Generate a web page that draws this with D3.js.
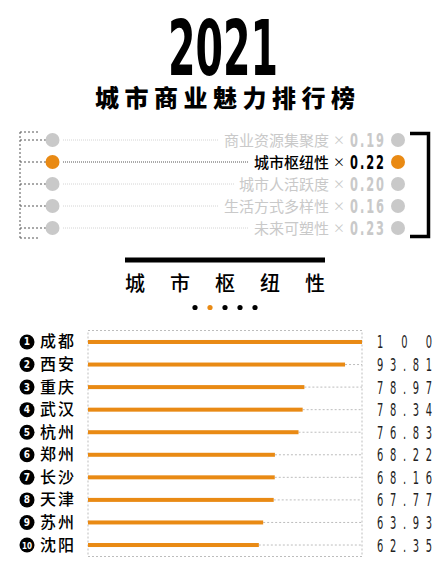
<!DOCTYPE html>
<html>
<head>
<meta charset="utf-8">
<script src="https://cdn.jsdelivr.net/npm/d3@7"></script>
<style>
  html, body { margin: 0; padding: 0; background: #fff; }
  svg { display: block; }
</style>
</head>
<body>
<div id="chart"></div>
<script>
// 数据
const title = '2021'
const subtitle = '城市商业魅力排行榜'
const dimNames = ['商业资源集聚度', '城市枢纽性', '城市人活跃度', '生活方式多样性', '未来可塑性']
const dimWeights = ['0.19', '0.22', '0.20', '0.16', '0.23']
const activeDim = 1
const cities = ['成都', '西安', '重庆', '武汉', '杭州', '郑州', '长沙', '天津', '苏州', '沈阳']
const scores = [100, 93.81, 78.97, 78.34, 76.83, 68.22, 68.16, 67.77, 63.93, 62.35]
const scoreLabels = ['1 0 0', '93.81', '78.97', '78.34', '76.83', '68.22', '68.16', '67.77', '63.93', '62.35']

const width = 443
const height = 565
const orange = '#e98a14'
const grey = '#c9c9c9'
const cjk = '"Noto Sans CJK SC", "Noto Sans", sans-serif'
const latin = '"DejaVu Sans", sans-serif'

const svg = d3.select('#chart').append('svg')
  .attr('width', width)
  .attr('height', height)

// 压缩字宽的数字文本：横向缩放字形，再用 textLength 撑满宽度
function narrowText (parent, x, y, w, sx, txt, opt) {
  const g = parent.append('g').attr('transform', `translate(${x},${y}) scale(${sx},1)`)
  return g.append('text')
    .attr('x', 0).attr('y', 0)
    .attr('textLength', w / sx)
    .attr('lengthAdjust', 'spacing')
    .attr('font-family', latin)
    .attr('font-weight', opt.weight || 'normal')
    .attr('font-size', opt.size)
    .attr('fill', opt.fill)
    .text(txt)
}

// 标题
svg.append('text')
  .attr('x', 168).attr('y', 75)
  .attr('textLength', 110)
  .attr('lengthAdjust', 'spacingAndGlyphs')
  .attr('font-family', '"DejaVu Sans Condensed", sans-serif')
  .attr('font-weight', 'bold')
  .attr('font-size', 76)
  .attr('fill', '#000')
  .text(title)

svg.append('text')
  .attr('x', 95).attr('y', 107)
  .attr('textLength', 260)
  .attr('lengthAdjust', 'spacing')
  .attr('font-family', cjk)
  .attr('font-weight', 900)
  .attr('font-size', 24)
  .attr('fill', '#000')
  .text(subtitle)

// 权重区
const rowY = d3.scalePoint().domain(d3.range(dimNames.length)).range([140, 228])
const wg = svg.append('g')

// 左侧虚线括号
wg.append('line')
  .attr('x1', 20).attr('x2', 20).attr('y1', 132).attr('y2', 238)
  .attr('stroke', '#555').attr('stroke-dasharray', '2,2')
wg.selectAll('.cap').data([132, 238]).enter().append('line')
  .attr('x1', 20).attr('x2', 40).attr('y1', d => d).attr('y2', d => d)
  .attr('stroke', '#555').attr('stroke-dasharray', '2,2')

// 右侧黑色括号
wg.append('path')
  .attr('d', 'M410,133.5H428.5V236.5H410')
  .attr('fill', 'none').attr('stroke', '#000').attr('stroke-width', 3.5)

dimNames.forEach((name, i) => {
  const y = rowY(i)
  const on = i === activeDim
  const col = on ? orange : grey
  wg.append('line')
    .attr('x1', 20).attr('x2', 46).attr('y1', y).attr('y2', y)
    .attr('stroke', '#555').attr('stroke-dasharray', '2,2')
  wg.append('circle').attr('cx', 52.5).attr('cy', y).attr('r', 7).attr('fill', col)
  wg.append('circle').attr('cx', 398).attr('cy', y).attr('r', 7).attr('fill', col)
  const label = wg.append('text')
    .attr('x', 329).attr('y', y + 5.5)
    .attr('text-anchor', 'end')
    .attr('font-family', cjk)
    .attr('font-weight', on ? 500 : 400)
    .attr('font-size', 15)
    .attr('fill', on ? '#000' : grey)
    .text(name)
  const lw = label.node().getComputedTextLength()
  wg.append('line')
    .attr('x1', 63).attr('x2', 329 - lw - 5).attr('y1', y).attr('y2', y)
    .attr('stroke', on ? '#555' : '#d4d4d4')
    .attr('stroke-dasharray', '1,1')
  wg.append('text')
    .attr('x', 339).attr('y', y + 4.5)
    .attr('text-anchor', 'middle')
    .attr('font-family', cjk)
    .attr('font-size', 12)
    .attr('fill', on ? '#000' : grey)
    .text('×')
  narrowText(wg, 350, y + 7, 34, 0.6, dimWeights[i], {
    size: 19, weight: 'bold', fill: on ? '#000' : grey
  })
})

// 小标题
svg.append('rect')
  .attr('x', 125).attr('y', 257.5).attr('width', 200).attr('height', 5).attr('fill', '#000')
const heading = dimNames[activeDim].split('')
heading.forEach((c, i) => {
  svg.append('text')
    .attr('x', 135 + i * 45).attr('y', 291)
    .attr('text-anchor', 'middle')
    .attr('font-family', cjk)
    .attr('font-weight', 500)
    .attr('font-size', 20)
    .attr('fill', '#000')
    .text(c)
})
svg.selectAll('.pager').data(dimNames).enter().append('circle')
  .attr('cx', (d, i) => 195 + i * 15)
  .attr('cy', 307.5)
  .attr('r', 2.6)
  .attr('fill', (d, i) => i === activeDim ? orange : '#000')

// 条形图
const x = d3.scaleLinear().domain([0, 100]).range([88, 362])
const y = d3.scaleBand().domain(cities).range([330.7, 556.3]).paddingInner(0).paddingOuter(0)
const cy = d => y(d) + y.bandwidth() / 2

svg.append('rect')
  .attr('x', x(0)).attr('y', 330.5)
  .attr('width', x(100) - x(0)).attr('height', 226)
  .attr('fill', 'none').attr('stroke', '#bdbdbd').attr('stroke-dasharray', '2,2')

const rows = svg.selectAll('.row').data(cities).enter().append('g')
  .attr('class', 'row')
  .attr('transform', d => `translate(0,${cy(d)})`)

rows.append('line')
  .attr('x1', (d, i) => x(scores[i])).attr('x2', x(100))
  .attr('stroke', '#bdbdbd').attr('stroke-dasharray', '2,2')

rows.append('rect')
  .attr('x', x(0)).attr('y', -2)
  .attr('width', (d, i) => x(scores[i]) - x(0))
  .attr('height', 4)
  .attr('fill', orange)

rows.append('circle')
  .attr('cx', 27).attr('cy', 0).attr('r', 7.5).attr('fill', '#000')
rows.append('text')
  .attr('x', 27).attr('y', 3.5)
  .attr('text-anchor', 'middle')
  .attr('font-family', '"DejaVu Sans Condensed", sans-serif')
  .attr('font-weight', 'bold')
  .attr('font-size', (d, i) => i === 9 ? 8 : 10)
  .attr('fill', '#fff')
  .text((d, i) => i + 1)

rows.append('text')
  .attr('x', 40).attr('y', 5.5)
  .attr('font-family', cjk)
  .attr('font-weight', 500)
  .attr('font-size', 16)
  .attr('letter-spacing', 2)
  .attr('fill', '#000')
  .text(d => d)

rows.each(function (d, i) {
  narrowText(d3.select(this), 377, 6.5, 55, 0.55, scoreLabels[i], { size: 18, fill: '#222' })
})
</script>
</body>
</html>
